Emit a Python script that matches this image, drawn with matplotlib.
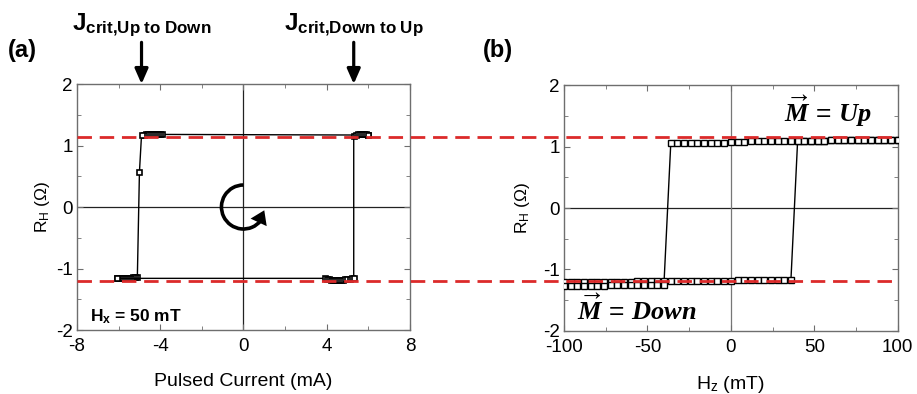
import matplotlib
matplotlib.use("Agg")
import matplotlib.pyplot as plt
from matplotlib.patches import Arc, FancyArrowPatch
from matplotlib.lines import Line2D
from matplotlib.transforms import ScaledTranslation, blended_transform_factory
import numpy as np

plt.rcParams['font.family'] = ['Liberation Sans', 'DejaVu Sans']
plt.rcParams['axes.unicode_minus'] = False
plt.rcParams['mathtext.fontset'] = 'custom'
plt.rcParams['mathtext.rm'] = 'Liberation Sans'
plt.rcParams['mathtext.bf'] = 'Liberation Sans:bold'
plt.rcParams['mathtext.it'] = 'Liberation Serif:italic:bold'

# (a) pulsed current sweeps, mA / Ohm
I_down = [6.0, -3.9, -4.0, -4.1, -4.2, -4.3, -4.4, -4.5, -4.6, -4.7, -4.8, -4.9,
          -5.0, -5.1, -5.2, -5.3, -5.4, -5.5, -5.6, -5.7, -5.8, -5.9, -6.0, -6.1]
R_down = [1.17, 1.18, 1.19, 1.19, 1.19, 1.18, 1.18, 1.18, 1.18, 1.18, 1.17, 1.17,
          0.57, -1.13, -1.13, -1.14, -1.15, -1.16, -1.16, -1.16, -1.16, -1.16, -1.16, -1.16]
I_up = [-6.1, 3.9, 4.0, 4.1, 4.2, 4.3, 4.4, 4.5, 4.6, 4.7, 4.8, 4.9, 5.0, 5.1, 5.2, 5.3,
        5.3, 5.4, 5.5, 5.6, 5.7, 5.8, 5.9, 6.0]
R_up = [-1.16, -1.16, -1.17, -1.17, -1.18, -1.18, -1.19, -1.19, -1.18, -1.18, -1.18, -1.17,
        -1.17, -1.17, -1.16, -1.16,
        1.16, 1.17, 1.18, 1.18, 1.18, 1.18, 1.18, 1.17]

# (b) field sweeps, mT / Ohm
H_down = [100, 96, 92, 88, 84, 80, 76, 72, 68, 64, 60, 56, 52, 48, 44, 40, 36, 32, 28, 24,
          20, 16, 12, 8, 4, 0, -4, -8, -12, -16, -20, -24, -28, -32, -36,
          -40, -44, -48, -52, -56, -60, -64, -68, -72, -76, -80, -84, -88, -92, -96, -100]
R_down_b = [1.10, 1.10, 1.10, 1.10, 1.10, 1.10, 1.10, 1.10, 1.10, 1.10, 1.10, 1.09, 1.09,
            1.09, 1.09, 1.09, 1.09, 1.09, 1.09, 1.09, 1.09, 1.09, 1.09, 1.08, 1.08, 1.08,
            1.06, 1.06, 1.06, 1.05, 1.05, 1.05, 1.05, 1.05, 1.05,
            -1.19, -1.19, -1.19, -1.19, -1.19, -1.20, -1.20, -1.20, -1.20, -1.20, -1.20,
            -1.20, -1.20, -1.20, -1.20, -1.21]
H_up = [-100, -96, -92, -88, -84, -80, -76, -72, -68, -64, -60, -56, -52, -48, -44, -40,
        -36, -32, -28, -24, -20, -16, -12, -8, -4, 0, 4, 8, 12, 16, 20, 24, 28, 32, 36,
        40, 44, 48, 52, 56, 60, 64, 68, 72, 76, 80, 84, 88, 92, 96, 100]
R_up_b = [-1.27, -1.27, -1.27, -1.27, -1.27, -1.27, -1.27, -1.26, -1.26, -1.26, -1.26,
          -1.26, -1.26, -1.26, -1.26, -1.26,
          -1.18, -1.18, -1.18, -1.18, -1.18, -1.18, -1.18, -1.18, -1.18, -1.18, -1.17,
          -1.17, -1.17, -1.17, -1.17, -1.17, -1.17, -1.17, -1.17,
          1.09, 1.09, 1.09, 1.09, 1.09, 1.10, 1.10, 1.10, 1.10, 1.10, 1.10, 1.10, 1.10,
          1.10, 1.10, 1.10]

R_up_level = 1.14
R_down_level = -1.20

red = '#dc2a2a'
spine_col = '#6e6e6e'

fig = plt.figure(figsize=(9.17, 3.94), dpi=100)
ax1 = fig.add_axes([0.084, 0.1624, 0.363, 0.6244])
ax2 = fig.add_axes([0.615, 0.160, 0.364, 0.624])

mk_a = dict(marker='s', ms=3.6, mfc='white', mec='black', mew=1.2, color='black', lw=1)
mk_b = dict(marker='s', ms=4.2, mfc='white', mec='black', mew=1.0, color='black', lw=1)

ax1.plot(I_down, R_down, **mk_a, zorder=3)
ax1.plot(I_up, R_up, **mk_a, zorder=3)
ax2.plot(H_down, R_down_b, **mk_b, zorder=3)
ax2.plot(H_up, R_up_b, **mk_b, zorder=3)

for ax, xlim, xmaj, xmin, vcol in [(ax1, (-8, 8), 4, 2, '#222222'),
                                   (ax2, (-100, 100), 50, 25, '#777777')]:
    ax.set_xlim(*xlim)
    ax.set_ylim(-2, 2)
    ax.set_xticks(np.arange(xlim[0], xlim[1] + 0.1, xmaj))
    ax.set_xticks(np.arange(xlim[0], xlim[1] + 0.1, xmin), minor=True)
    ax.set_yticks([-2, -1, 0, 1, 2])
    ax.set_yticks([-1.5, -0.5, 0.5, 1.5], minor=True)
    ax.axhline(0, color='#222222', lw=0.9, zorder=1)
    ax.axvline(0, color=vcol, lw=0.9, zorder=1)
    ax.tick_params(which='both', direction='in', top=True, right=True,
                   color=spine_col, labelsize=13.5)
    ax.tick_params(axis='x', pad=6)
    ax.tick_params(axis='y', pad=3)
    ax.tick_params(which='major', length=4)
    ax.tick_params(which='minor', length=3)
    for s in ax.spines.values():
        s.set_color(spine_col)
        s.set_linewidth(1)

ax1.set_ylabel(r'R$_{\mathrm{H}}$ (Ω)', fontsize=12.5, labelpad=3)
ax2.set_ylabel(r'R$_{\mathrm{H}}$ (Ω)', fontsize=12.5, labelpad=8)
ax1.set_xlabel('Pulsed Current (mA)', fontsize=14, labelpad=13)
ax2.set_xlabel(r'H$_{\mathrm{z}}$ (mT)', fontsize=14, labelpad=13)

# dashed reference levels across both panels
tr = blended_transform_factory(fig.transFigure, ax1.transData)
for lvl in [R_up_level, R_down_level]:
    fig.add_artist(Line2D([0.084, 0.979], [lvl, lvl], transform=tr, color=red,
                          lw=2, dashes=(5.2, 2.8), zorder=10))

# critical current arrows and labels
for xc, lab in [(-4.9, r'$\mathbf{J}_{\mathbf{crit{,}Up\ to\ Down}}$'),
                (5.3, r'$\mathbf{J}_{\mathbf{crit{,}Down\ to\ Up}}$')]:
    ax1.annotate('', xy=(xc, 2), xytext=(0, 30), textcoords='offset points',
                 annotation_clip=False,
                 arrowprops=dict(arrowstyle='-|>,head_length=0.5,head_width=0.22',
                                 mutation_scale=18, lw=2.3, color='black',
                                 shrinkA=0, shrinkB=0))
    ax1.annotate(lab, xy=(xc, 2), xytext=(0, 33), textcoords='offset points',
                 ha='center', va='bottom', fontsize=17.5, annotation_clip=False)

# rotation symbol around the origin
ctr = fig.dpi_scale_trans + ScaledTranslation(0, 0, ax1.transData)
r = 0.22
ax1.add_patch(Arc((0, 0), 2 * r, 2 * r, theta1=90, theta2=322, transform=ctr,
                  color='black', lw=2.6, zorder=5))
a0, a1 = np.deg2rad(312), np.deg2rad(-2)
ax1.add_patch(FancyArrowPatch((r * np.cos(a0), r * np.sin(a0)),
                              (r * np.cos(a1), r * np.sin(a1)), transform=ctr,
                              arrowstyle='-|>,head_length=0.6,head_width=0.4',
                              mutation_scale=16, lw=0, color='black', zorder=5))

ax1.text(0.04, 0.035, r'H$_{\mathbf{x}}$ = 50 mT', transform=ax1.transAxes,
         fontsize=12.5, fontweight='bold', va='baseline')

ax2.text(0.66, 0.85, r'$\overrightarrow{M}\,=\,Up$', transform=ax2.transAxes,
         fontsize=19, va='baseline')
ax2.text(0.04, 0.045, r'$\overrightarrow{M}\,=\,Down$', transform=ax2.transAxes,
         fontsize=19, va='baseline')

fig.text(0.009, 0.873, '(a)', fontsize=17, fontweight='bold', va='center')
fig.text(0.527, 0.873, '(b)', fontsize=17, fontweight='bold', va='center')

fig.savefig('out.png', dpi=100)
